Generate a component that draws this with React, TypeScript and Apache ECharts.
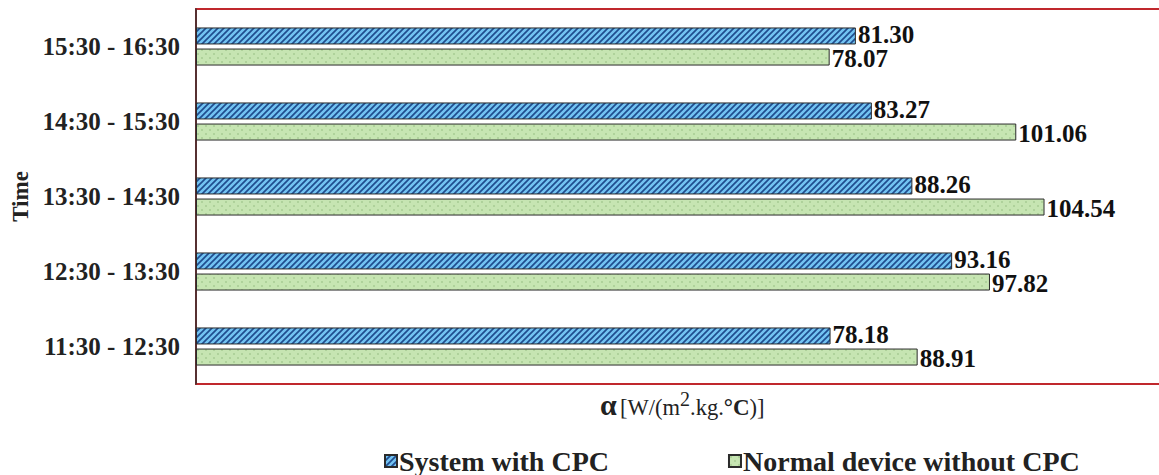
import React, { useEffect, useRef } from "react";
import * as echarts from "echarts";

const categories = ["11:30 - 12:30", "12:30 - 13:30", "13:30 - 14:30", "14:30 - 15:30", "15:30 - 16:30"];
const withCPC = [78.18, 93.16, 88.26, 83.27, 81.3];
const withoutCPC = [88.91, 97.82, 104.54, 101.06, 78.07];
const seriesNames = ["System with CPC", "Normal device without CPC"];

const blueSvg =
  "<svg xmlns='http://www.w3.org/2000/svg' width='6' height='6'><rect width='6' height='6' fill='#72C3F2'/><path d='M-1.5,1.5 L1.5,-1.5 M0,6 L6,0 M4.5,7.5 L7.5,4.5' stroke='#1F4D8F' stroke-width='1.7'/></svg>";
const greenSvg =
  "<svg xmlns='http://www.w3.org/2000/svg' width='8' height='8'><rect width='8' height='8' fill='#C6E5B2'/><circle cx='2' cy='2' r='0.7' fill='#86B273'/><circle cx='6' cy='6' r='0.7' fill='#86B273'/></svg>";

const toUrl = (s: string) => "data:image/svg+xml;charset=utf-8," + encodeURIComponent(s);

export default function App() {
  const ref = useRef<HTMLDivElement>(null);
  useEffect(() => {
    if (!ref.current) return;
    const chart = echarts.init(ref.current, null, { renderer: "svg" });
    const bluePattern: any = { image: toUrl(blueSvg), repeat: "repeat", imageWidth: 6, imageHeight: 6 };
    const greenPattern: any = { image: toUrl(greenSvg), repeat: "repeat", imageWidth: 8, imageHeight: 8 };
    const serif = "'Liberation Serif', 'Times New Roman', serif";
    const labelStyle = (dy: number) => ({
      show: true,
      position: "right" as const,
      distance: 2,
      offset: [0, dy],
      fontFamily: serif,
      fontWeight: "bold" as const,
      fontSize: 25,
      lineHeight: 19,
      color: "#111",
      formatter: (p: any) => Number(p.value).toFixed(2),
    });
    chart.setOption({
      animation: false,
      backgroundColor: "#fff",
      grid: {
        left: 196,
        top: 9,
        width: 974,
        height: 375,
        show: true,
        borderColor: "#C0282D",
        borderWidth: 2,
        containLabel: false,
        outerBoundsMode: "none",
      },
      xAxis: {
        type: "value",
        min: 0,
        max: 120,
        axisLabel: { show: false },
        axisTick: { show: false },
        axisLine: { show: false },
        splitLine: { show: false },
      },
      yAxis: {
        type: "category",
        data: categories,
        name: "Time",
        nameLocation: "middle",
        nameRotate: 90,
        nameGap: 163,
        nameTextStyle: { fontFamily: serif, fontWeight: "bold", fontSize: 23, color: "#222" },
        axisLine: { show: true, lineStyle: { color: "#333", width: 1.5 } },
        axisTick: { show: false },
        axisLabel: { fontFamily: serif, fontWeight: "bold", fontSize: 25, color: "#222", margin: 16 },
      },
      legend: {
        left: 379,
        top: 442,
        itemGap: 119,
        itemWidth: 12,
        itemHeight: 12,
        icon: "rect",
        textStyle: { fontFamily: serif, fontWeight: "bold", fontSize: 28, lineHeight: 28, color: "#222", padding: [0, 0, 0, -3] },
        data: seriesNames,
      },
      graphic: [
        {
          type: "text",
          left: 600,
          top: 389,
          style: {
            text: "{a|α} {b|[W/(m}{s|2}{b|.kg.}{c|°C}{b|)]}",
            rich: {
              a: { fontFamily: serif, fontWeight: "bold", fontSize: 30, fill: "#222", verticalAlign: "bottom" },
              b: { fontFamily: serif, fontSize: 22.5, fill: "#222", verticalAlign: "bottom" },
              s: { fontFamily: serif, fontSize: 20, fill: "#222", verticalAlign: "top", padding: [0, 0, 10, 0] },
              c: { fontFamily: serif, fontWeight: "bold", fontSize: 23, fill: "#222", verticalAlign: "bottom" },
            },
          },
        },
      ],
      series: [
        {
          name: seriesNames[0],
          type: "bar",
          data: withCPC,
          barWidth: 17,
          barGap: "24%",
          itemStyle: { color: bluePattern, borderColor: "#2b2b2b", borderWidth: 1 },
          label: labelStyle(-1),
        },
        {
          name: seriesNames[1],
          type: "bar",
          data: withoutCPC,
          barWidth: 17,
          barGap: "24%",
          itemStyle: { color: greenPattern, borderColor: "#2b2b2b", borderWidth: 1 },
          label: labelStyle(1),
        },
      ],
    });
    return () => chart.dispose();
  }, []);
  return <div ref={ref} style={{ width: 1159, height: 475, position: "absolute", left: 0, top: 0 }} />;
}
